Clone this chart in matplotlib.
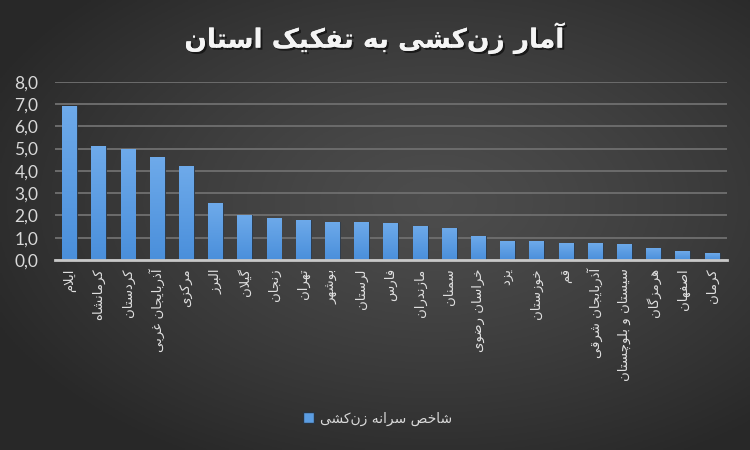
import numpy as np
import matplotlib
matplotlib.use("Agg")
import matplotlib.pyplot as plt
import matplotlib.patheffects as pe
from matplotlib.ticker import FuncFormatter

provinces = [
    "ایلام", "کرمانشاه", "کردستان", "آذربایجان غربی", "مرکزی", "البرز",
    "گیلان", "زنجان", "تهران", "بوشهر", "لرستان", "فارس", "مازندران",
    "سمنان", "خراسان رضوی", "یزد", "خوزستان", "قم", "آذربایجان شرقی",
    "سیستان و بلوچستان", "هرمزگان", "اصفهان", "کرمان",
]
values = [6.9, 5.1, 5.0, 4.6, 4.2, 2.55, 2.0, 1.9, 1.8, 1.72, 1.72, 1.66,
          1.54, 1.45, 1.09, 0.85, 0.85, 0.76, 0.76, 0.73, 0.54, 0.40, 0.31]
title = "آمار زن‌کشی به تفکیک استان"
series_name = "شاخص سرانه زن‌کشی"

# --- minimal Persian shaping (matplotlib has no complex text layout) ---
# char -> (isolated, final, initial, medial); right-joining letters have only 2
FORMS = {
    "ا": (0xFE8D, 0xFE8E), "آ": (0xFE81, 0xFE82),
    "ب": (0xFE8F, 0xFE90, 0xFE91, 0xFE92), "پ": (0xFB56, 0xFB57, 0xFB58, 0xFB59),
    "ت": (0xFE95, 0xFE96, 0xFE97, 0xFE98), "ث": (0xFE99, 0xFE9A, 0xFE9B, 0xFE9C),
    "ج": (0xFE9D, 0xFE9E, 0xFE9F, 0xFEA0), "چ": (0xFB7A, 0xFB7B, 0xFB7C, 0xFB7D),
    "ح": (0xFEA1, 0xFEA2, 0xFEA3, 0xFEA4), "خ": (0xFEA5, 0xFEA6, 0xFEA7, 0xFEA8),
    "د": (0xFEA9, 0xFEAA), "ذ": (0xFEAB, 0xFEAC), "ر": (0xFEAD, 0xFEAE),
    "ز": (0xFEAF, 0xFEB0), "ژ": (0xFB8A, 0xFB8B),
    "س": (0xFEB1, 0xFEB2, 0xFEB3, 0xFEB4), "ش": (0xFEB5, 0xFEB6, 0xFEB7, 0xFEB8),
    "ص": (0xFEB9, 0xFEBA, 0xFEBB, 0xFEBC), "ض": (0xFEBD, 0xFEBE, 0xFEBF, 0xFEC0),
    "ط": (0xFEC1, 0xFEC2, 0xFEC3, 0xFEC4), "ظ": (0xFEC5, 0xFEC6, 0xFEC7, 0xFEC8),
    "ع": (0xFEC9, 0xFECA, 0xFECB, 0xFECC), "غ": (0xFECD, 0xFECE, 0xFECF, 0xFED0),
    "ف": (0xFED1, 0xFED2, 0xFED3, 0xFED4), "ق": (0xFED5, 0xFED6, 0xFED7, 0xFED8),
    "ک": (0xFB8E, 0xFB8F, 0xFB90, 0xFB91), "گ": (0xFB92, 0xFB93, 0xFB94, 0xFB95),
    "ل": (0xFEDD, 0xFEDE, 0xFEDF, 0xFEE0), "م": (0xFEE1, 0xFEE2, 0xFEE3, 0xFEE4),
    "ن": (0xFEE5, 0xFEE6, 0xFEE7, 0xFEE8), "و": (0xFEED, 0xFEEE),
    "ه": (0xFEE9, 0xFEEA, 0xFEEB, 0xFEEC), "ی": (0xFBFC, 0xFBFD, 0xFBFE, 0xFBFF),
}
LAM_ALEF = {"ا": (0xFEFB, 0xFEFC), "آ": (0xFEF5, 0xFEF6)}


def shape(text):
    # merge lam + alef into ligature tokens first
    tokens = []
    i = 0
    while i < len(text):
        if text[i] == "ل" and i + 1 < len(text) and text[i + 1] in LAM_ALEF:
            tokens.append(("LA", text[i + 1]))
            i += 2
        else:
            tokens.append((text[i], None))
            i += 1

    def dual(tok):
        return tok[0] in FORMS and len(FORMS[tok[0]]) == 4

    def joins(tok):
        return tok[0] == "LA" or tok[0] in FORMS

    out = []
    for k, tok in enumerate(tokens):
        prev_ok = k > 0 and dual(tokens[k - 1]) and joins(tok)
        if tok[0] == "LA":
            iso, fin = LAM_ALEF[tok[1]]
            out.append(chr(fin if prev_ok else iso))
            continue
        if tok[0] not in FORMS:
            if tok[0] != "\u200c":
                out.append(tok[0])
            continue
        f = FORMS[tok[0]]
        next_ok = dual(tok) and k + 1 < len(tokens) and joins(tokens[k + 1])
        if prev_ok and next_ok:
            out.append(chr(f[3]))
        elif prev_ok:
            out.append(chr(f[1]))
        elif next_ok:
            out.append(chr(f[2]))
        else:
            out.append(chr(f[0]))
    return "".join(reversed(out))


plt.rcParams["font.family"] = ["DejaVu Sans"]

fig = plt.figure(figsize=(7.5, 4.5), dpi=100)

# radial dark-grey background
bg = fig.add_axes([0, 0, 1, 1], zorder=-10)
gx, gy = np.meshgrid(np.linspace(0, 1, 300), np.linspace(0, 1, 180))
r = np.sqrt(((gx - 0.58) / 0.75) ** 2 + ((gy - 0.45) / 0.75) ** 2)
shade = np.clip(0.30 - 0.17 * r ** 1.3, 0.16, 0.30)
bg.imshow(np.dstack([shade] * 3), extent=[0, 1, 0, 1], aspect="auto", origin="upper")
bg.axis("off")

ax = fig.add_axes([0.0733, 0.4222, 0.8957, 0.3962])
ax.patch.set_alpha(0)

x = np.arange(len(values))
bars = ax.bar(x, values, width=0.51, color="#5b9de2", zorder=3,
              edgecolor="#2a3440", linewidth=0.6)

# vertical light-to-dark gradient inside each bar
grad = np.linspace(0, 1, 100).reshape(-1, 1)
cmap = matplotlib.colors.LinearSegmentedColormap.from_list("b", ["#4a8fdb", "#6eaaea"])
for b in bars:
    x0, w, h = b.get_x(), b.get_width(), b.get_height()
    im = ax.imshow(grad, cmap=cmap, extent=[x0, x0 + w, 0, h], origin="lower",
                   aspect="auto", zorder=4)
    im.set_clip_path(b)

ax.set_xlim(-0.5, len(values) - 0.5)
ax.set_ylim(0, 8)
ax.set_yticks(np.arange(0, 9, 1))
ax.yaxis.set_major_formatter(FuncFormatter(lambda v, p: f"{v:.1f}".replace(".", ",")))
ax.grid(axis="y", color="#6c6c6c", linewidth=1.4, zorder=0)
ax.set_axisbelow(True)

for side in ["top", "right", "left"]:
    ax.spines[side].set_visible(False)
ax.spines["bottom"].set_color("#c8c8c8")
ax.spines["bottom"].set_linewidth(2)
ax.spines["bottom"].set_zorder(5)

ax.set_xticks(x)
ax.set_xticklabels([shape(p) for p in provinces], rotation=90, fontsize=9.5,
                   color="#e0e0e0")
ax.tick_params(axis="x", length=0, pad=6)
ax.tick_params(axis="y", length=0, pad=12)
for lbl in ax.get_yticklabels():
    lbl.set_fontfamily("Lato")
    lbl.set_fontsize(12.5)
    lbl.set_color("#d9d9d9")

fig.text(0.4993, 0.915, shape(title), ha="center", va="center", fontsize=19,
         fontweight="bold", color="#f4f4f4",
         path_effects=[pe.withSimplePatchShadow(offset=(1.5, -1.5), shadow_rgbFace="#111111", alpha=0.8),
                       pe.Normal()])

handle = plt.Rectangle((0, 0), 1, 1, facecolor="#5b9de2", edgecolor="#2a3440")
fig.legend([handle], [shape(series_name)], loc="center", bbox_to_anchor=(0.503, 0.07),
           frameon=False, fontsize=10, labelcolor="#d9d9d9",
           handlelength=0.8, handleheight=0.8, handletextpad=0.4)

fig.savefig("out.png", dpi=100)
